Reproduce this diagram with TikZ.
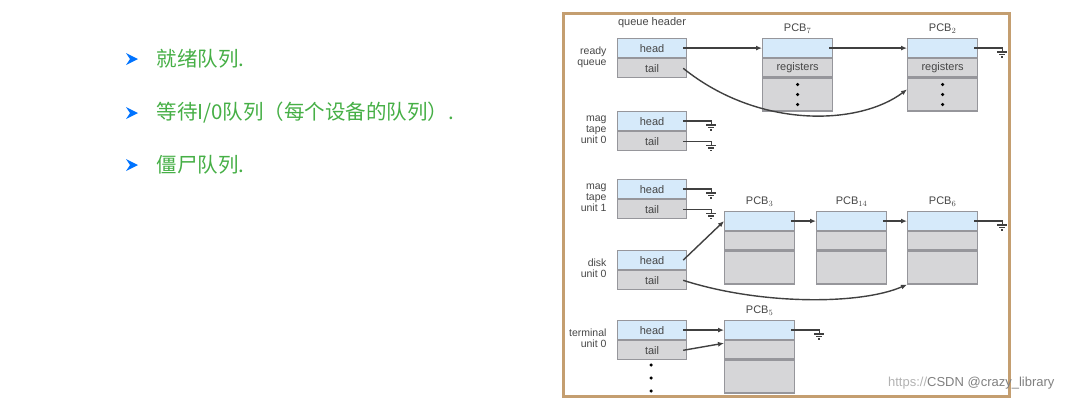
\documentclass[tikz,border=0pt]{standalone}
\usepackage{fontspec}
\setmainfont{Liberation Sans}
\newfontfamily\cjk{Noto Sans CJK SC}
\usetikzlibrary{arrows.meta,positioning}
\definecolor{lb}{RGB}{214,234,250}
\definecolor{gr}{RGB}{214,214,216}
\definecolor{bd}{RGB}{150,150,155}
\definecolor{tan}{RGB}{196,158,112}
\definecolor{grn}{RGB}{70,175,70}
\definecolor{txt}{RGB}{70,70,70}
\begin{document}
\begin{tikzpicture}[x=1pt,y=-1pt,
  cell/.style={draw=bd,line width=1.2pt,minimum width=69pt,inner sep=0pt,font=\fontsize{11}{12}\selectfont,text=txt},
  hd/.style={cell,fill=lb,minimum height=19pt},
  tl/.style={cell,fill=gr,minimum height=19pt},
  rest/.style={cell,fill=gr,minimum height=33pt},
  lab/.style={font=\fontsize{10.5}{11}\selectfont,text=txt,align=right,anchor=east},
  pcb/.style={font=\fontsize{11}{12}\selectfont,text=txt},
  ptr/.style={line width=1.4pt,draw=black!75,-{Latex[length=6pt,width=5pt]}},
  gl/.style={line width=1.4pt,draw=black!75},
  dot/.style={circle,fill=black,inner sep=0pt,minimum size=3.5pt}]
\useasboundingbox (0,0) rectangle (1072,402);
\newcommand\gnd[1]{\draw[gl] (#1) -- ++(28,0) -- ++(0,4) ++(-5,0) -- ++(10,0) ++(-8,2.5) -- ++(6,0) ++(-4,2.5) -- ++(2,0);}
\foreach \y/\t in {59/{就绪队列.},113/{等待I/0队列（每个设备的队列）.},165/{僵尸队列.}}{
  \fill[blue!55!cyan] (126,\y-6) -- (138,\y) -- (126,\y+6) -- (130,\y) -- cycle;
  \node[anchor=west,text=grn,font=\cjk\fontsize{20.5}{24}\selectfont] at (153,\y) {\t};
}
\draw[tan,line width=3pt] (563,13) rectangle (1009,396);
\draw[white,line width=0.8pt] (565.5,15.5) rectangle (1006.5,393.5);
\node[pcb] (qh) at (652,23) {queue header};
\foreach \n/\y in {rq/38,m0/111,m1/179,dk/250,tm/320}{
  \node[hd,anchor=north west] (\n h) at (617,\y) {head};
  \node[tl,anchor=north] (\n t) at (\n h.south) {tail};
}
\node[lab] (l1) at (610,57) {ready\\queue};
\node[lab] (l2) at (610,130) {mag\\tape\\unit 0};
\node[lab] (l3) at (610,198) {mag\\tape\\unit 1};
\node[lab] (l4) at (610,268) {disk\\unit 0};
\node[lab] (l5) at (610,338) {terminal\\unit 0};
\foreach \n/\x/\y/\r in {p7/762/38/registers,p2/907/38/registers,p3/724/211/{},p14/816/211/{},p6/907/211/{},p5/724/320/{}}{
  \node[hd,anchor=north west,minimum width=70pt] (\n a) at (\x,\y) {};
  \node[tl,anchor=north,minimum width=70pt,minimum height=18pt] (\n b) at (\n a.south) {\r};
  \node[rest,anchor=north,minimum width=70pt] (\n c) at (\n b.south) {};
}
\node[pcb,above=1pt of p7a] (t7) {PCB$_7$};
\node[pcb,above=1pt of p2a] (t2) {PCB$_2$};
\node[pcb,above=1pt of p3a] (t3) {PCB$_3$};
\node[pcb,above=1pt of p14a] (t14) {PCB$_{14}$};
\node[pcb,above=1pt of p6a] (t6) {PCB$_6$};
\node[pcb,above=1pt of p5a] (t5) {PCB$_5$};
\foreach \n in {p7c,p2c}{
  \node[dot] at ([yshift=-10pt]\n.center) {};
  \node[dot] at (\n.center) {};
  \node[dot] at ([yshift=10pt]\n.center) {};
}
\node[dot] (d1) at (651,365) {};
\node[dot] (d2) at (651,378) {};
\node[dot] (d3) at (651,391) {};
\draw[ptr] ([xshift=-4pt]rqh.east) -- (p7a.west);
\draw[ptr] ([xshift=-4pt]p7a.east) -- (p2a.west);
\gnd{[xshift=-4pt]p2a.east}
\draw[ptr] ([xshift=-4pt]rqt.east) .. controls (760,130) and (860,125) .. ([yshift=-12pt]p2c.north west);
\foreach \n in {m0h,m0t,m1h,m1t}{\gnd{[xshift=-4pt]\n.east}}
\draw[ptr] ([xshift=-4pt]dkh.east) -- (p3a.west);
\draw[ptr] ([xshift=-4pt]p3a.east) -- (p14a.west);
\draw[ptr] ([xshift=-4pt]p14a.east) -- (p6a.west);
\gnd{[xshift=-4pt]p6a.east}
\draw[ptr] ([xshift=-4pt]dkt.east) .. controls (760,305) and (860,305) .. (p6c.south west);
\draw[ptr] ([xshift=-4pt]tmh.east) -- (p5a.west);
\draw[ptr] ([xshift=-4pt]tmt.east) -- ([yshift=-3pt]p5a.south west);
\gnd{[xshift=-4pt]p5a.east}
\node[anchor=east,text=gray!60,font=\fontsize{13}{14}\selectfont] (wm) at (1058,383) {https://\textcolor{gray}{CSDN @crazy\_library}};
\end{tikzpicture}
\end{document}
